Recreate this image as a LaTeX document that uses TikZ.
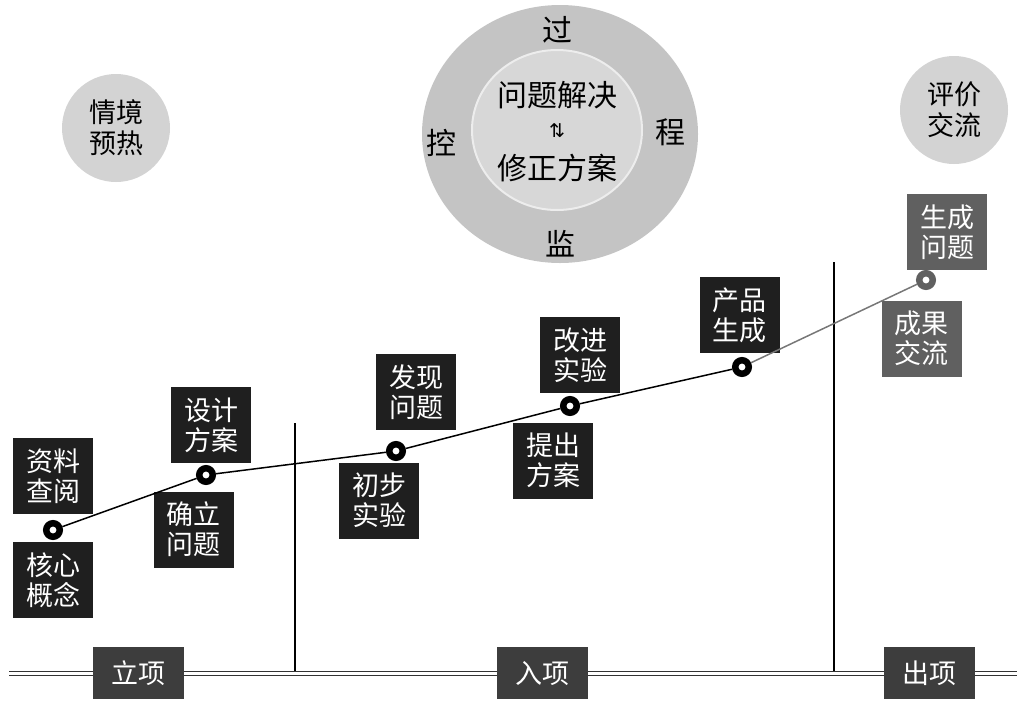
\documentclass[tikz,border=0pt]{standalone}
\usepackage{fontspec}
\newfontfamily\cjk{Noto Sans CJK SC}
\newfontfamily\symfont{DejaVu Sans}
\usetikzlibrary{shapes.geometric}

\definecolor{boxblack}{HTML}{1F1F1F}
\definecolor{boxgray}{HTML}{606060}
\definecolor{phasegray}{HTML}{3D3D3D}
\definecolor{ringgray}{HTML}{C4C4C4}
\definecolor{coregray}{HTML}{D7D7D7}
\definecolor{bubblegray}{HTML}{D3D3D3}
\definecolor{trackgray}{HTML}{777777}

\tikzset{%
  stage box/.style={
    rectangle,
    fill=boxblack,
    text=white,
    inner sep=0pt,
    minimum width=80pt,
    minimum height=76pt,
    align=center,
    font=\cjk\fontsize{27}{30}\selectfont
  },
  stage box light/.style={
    stage box,
    fill=boxgray
  },
  phase box/.style={
    stage box,
    fill=phasegray,
    minimum width=91pt,
    minimum height=52pt
  },
  milestone/.style={
    circle,
    draw=black,
    line width=6.5pt,
    fill=white,
    inner sep=0pt,
    minimum size=13.5pt
  },
  topic circle/.style={
    circle,
    fill=bubblegray,
    inner sep=0pt,
    minimum size=108pt,
    align=center,
    font=\cjk\fontsize{27}{31}\selectfont
  },
  ring text/.style={
    font=\cjk\fontsize{30}{34}\selectfont
  },
}

\begin{document}
\begin{tikzpicture}[x=1pt, y=-1pt]

\useasboundingbox (0,0) rectangle (1017,702);

% Kreise oben
\node [topic circle] (warmup) at (116,128) {情境\\预热};
\node [topic circle] (review) at (954,110) {评价\\交流};

\node [ellipse, fill=ringgray, inner sep=0pt, minimum width=276pt, minimum height=258pt] (monitor) at (560,134) {};
\node [ellipse, fill=coregray, draw=white!93!black, line width=2pt, inner sep=0pt, minimum width=170pt, minimum height=160pt] (solve) at (557,130) {};

\node [ring text] (ring-top) at (557,30) {过};
\node [ring text] (ring-right) at (670,132) {程};
\node [ring text] (ring-bottom) at (560,244) {监};
\node [ring text] (ring-left) at (441,143) {控};

\node [ring text] (solve-a) at (557,95) {问题解决};
\node [font=\symfont\fontsize{19}{19}\selectfont] (solve-arrow) at (557,131) {⇅};
\node [ring text] (solve-b) at (557,168) {修正方案};


% Trennlinien und Zeitleiste
\coordinate (div-1) at (295,423);
\coordinate (div-2) at (834,262);
\coordinate (bar-l) at (9,673.5);
\coordinate (bar-r) at (1017,673.5);

\draw [line width=1.2pt] (div-1) -- (div-1 |- bar-l);
\draw [line width=1.2pt] (div-2) -- (div-2 |- bar-l);

\draw [draw=black!80, double=white, double distance=3pt, line width=1.2pt] (bar-l) -- (bar-r);

\node [phase box] (phase-1) at (138.5,673) {立项};
\node [phase box] (phase-2) at (542,673) {入项};
\node [phase box] (phase-3) at (929,673) {出项};


% Stationen
\foreach \n/\x/\y/\t in {lookup/53/476/{资料\\查阅},
                         core/53/580/{核心\\概念},
                         design/211/425/{设计\\方案},
                         define/193.5/529.5/{确立\\问题},
                         discover/416/392/{发现\\问题},
                         trial/379/500.5/{初步\\实验},
                         improve/580/355/{改进\\实验},
                         propose/553/460.5/{提出\\方案},
                         product/739.5/315/{产品\\生成}}
  \node [stage box] (\n) at (\x,\y) {\t};

\node [stage box light] (newq) at (947,232) {生成\\问题};
\node [stage box light] (share) at (921.5,338.5) {成果\\交流};


% Punkte und Verbindungen
\foreach \m/\x/\y in {1/53/530, 2/206/475, 3/396/451, 4/570/406, 5/742/367}
  \node [milestone] (m-\m) at (\x,\y) {};
\node [milestone, draw=boxgray] (m-6) at (926,280) {};

\foreach \a/\b in {1/2, 2/3, 3/4, 4/5}
  \draw [line width=1.5pt] (m-\a) -- (m-\b);
\draw [line width=1.5pt, trackgray] (m-5) -- (m-6);

\end{tikzpicture}
\end{document}
